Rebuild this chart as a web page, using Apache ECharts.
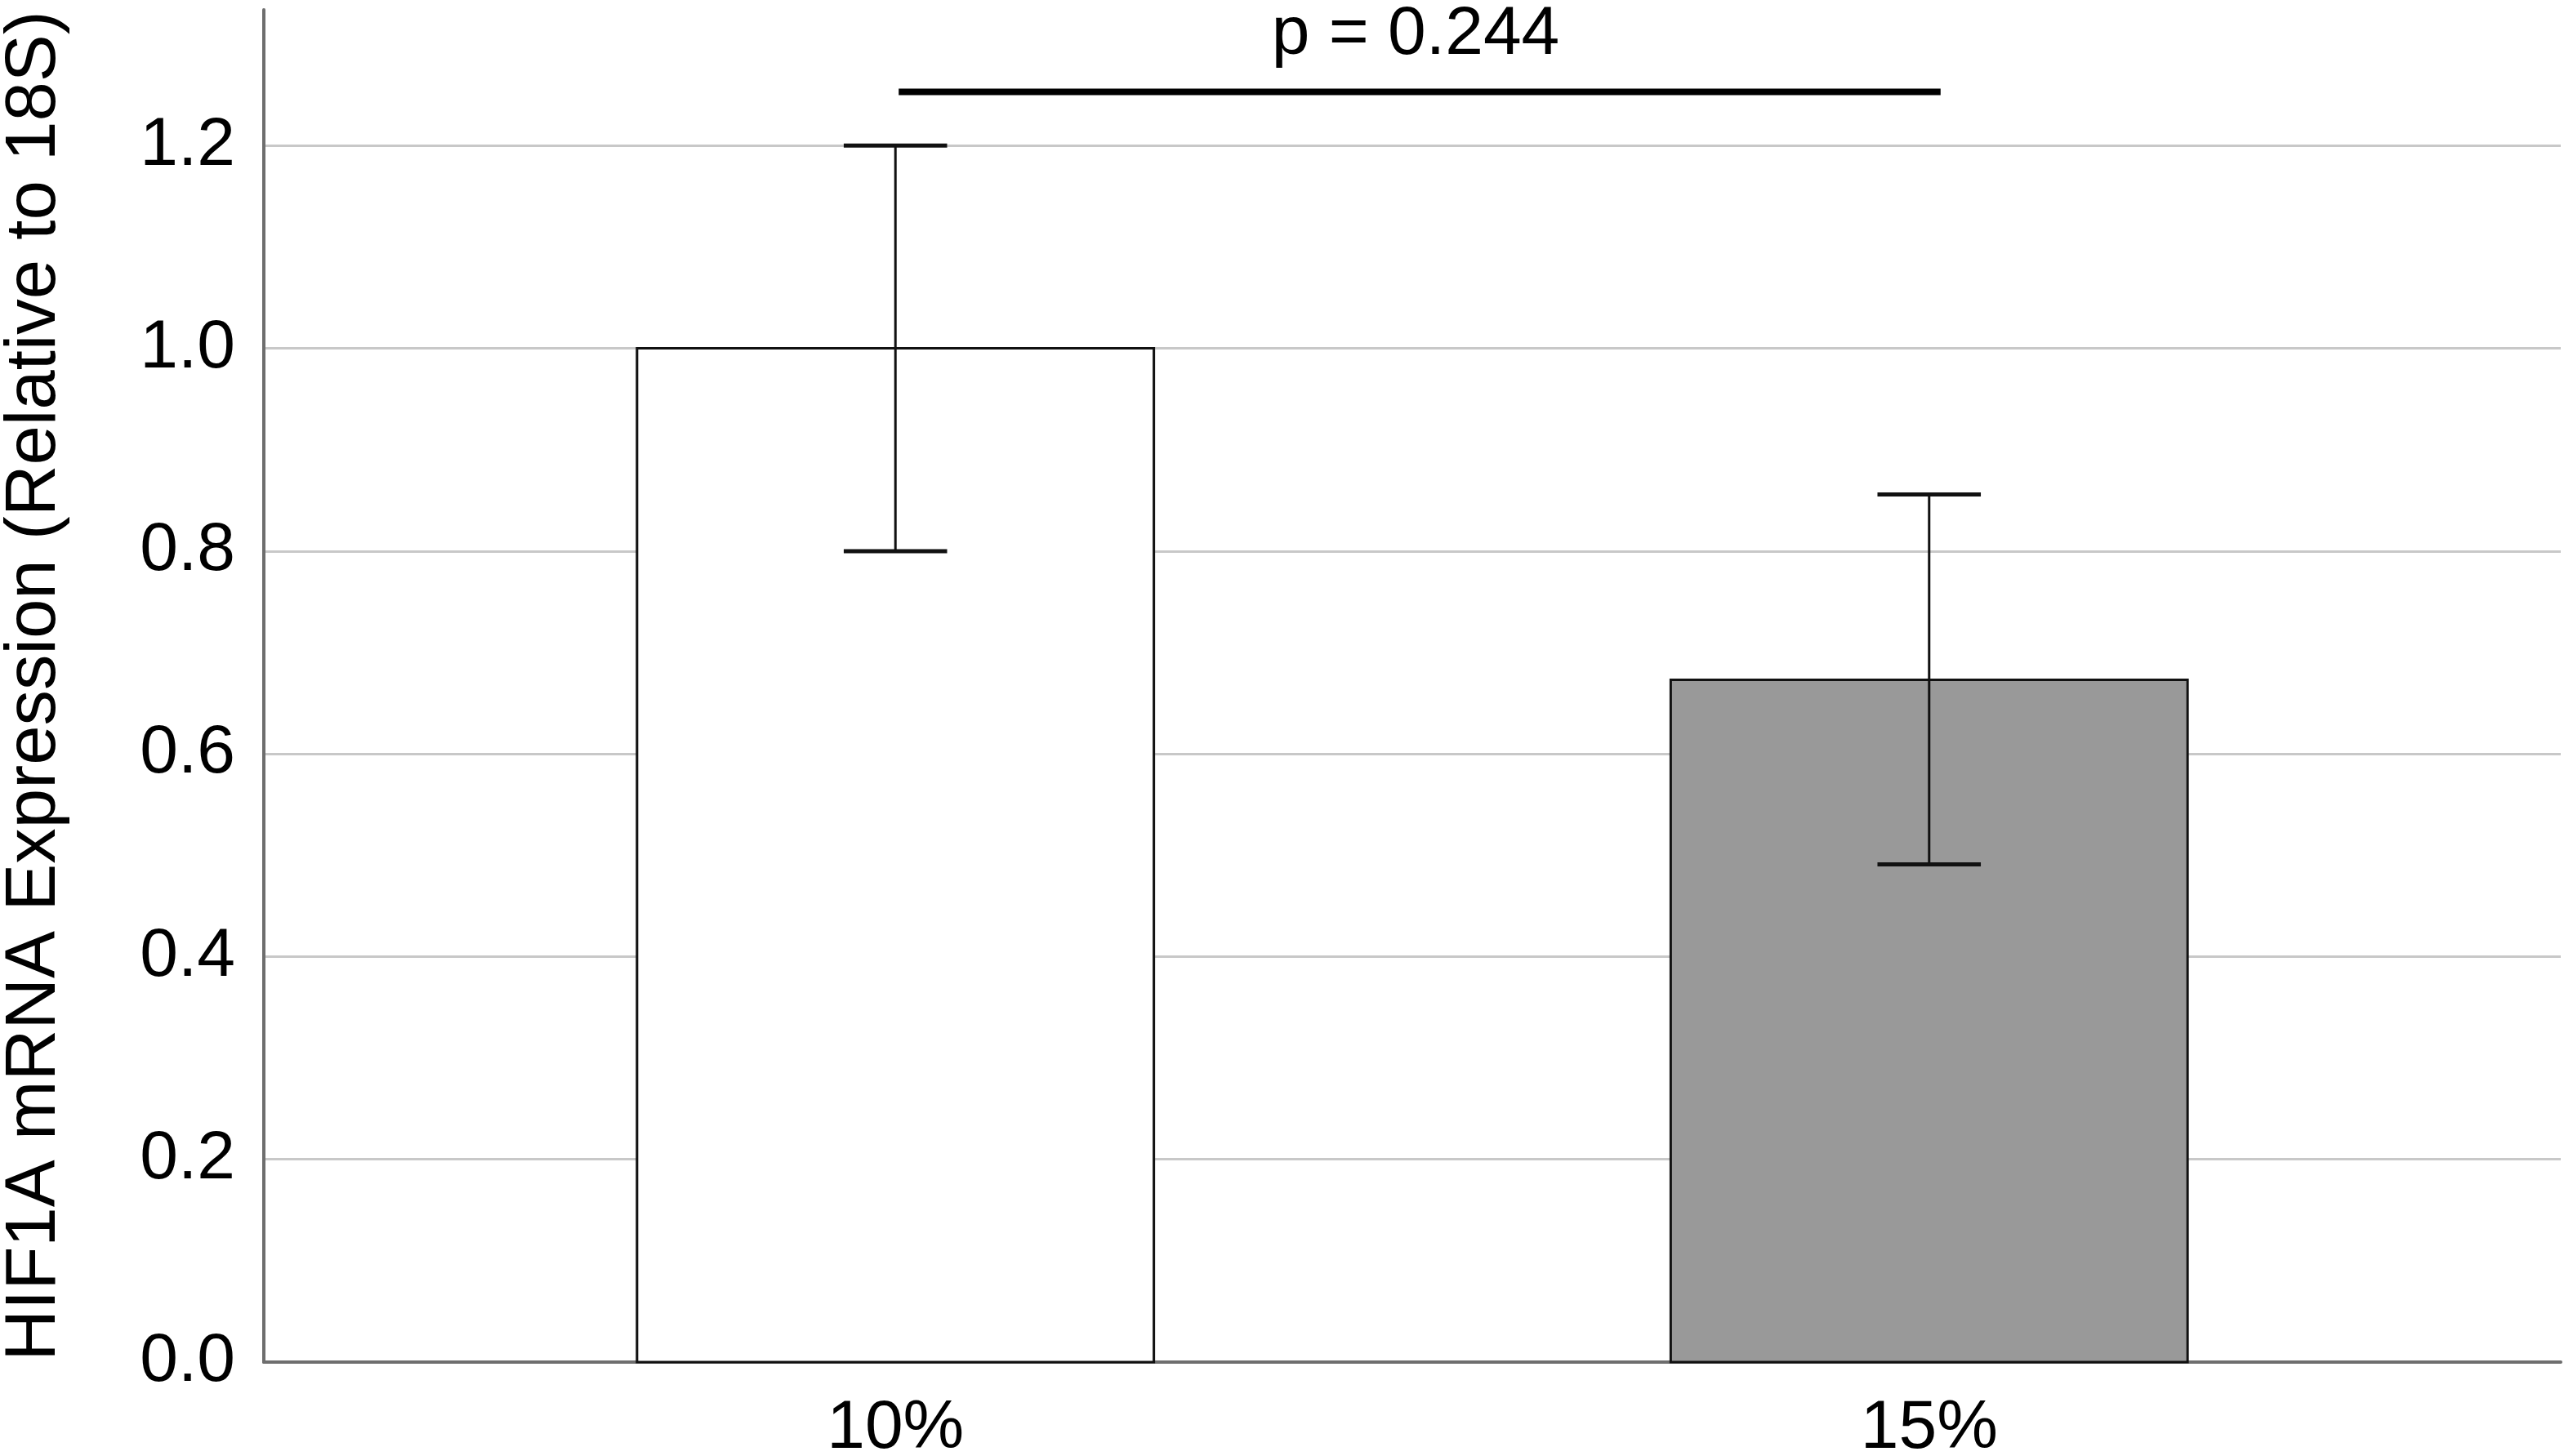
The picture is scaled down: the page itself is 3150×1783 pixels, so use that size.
<!DOCTYPE html>
<html>
<head>
<meta charset="utf-8">
<script src="https://cdn.jsdelivr.net/npm/echarts@6/dist/echarts.min.js"></script>
<style>
  html, body { margin: 0; padding: 0; background: #fff; }
</style>
</head>
<body>
<div id="main" style="width: 3150px;height:1783px;"></div>
<script type="text/javascript">
  // data
  var categories = ['10%', '15%'];
  var positions = [1, 2];
  var means = [1.0, 0.673];
  var errLow = [0.8, 0.491];
  var errHigh = [1.2, 0.856];
  var barColors = ['#ffffff', '#999999'];
  var yTicks = [0, 0.2, 0.4, 0.6, 0.8, 1.0, 1.2];
  var pText = 'p = 0.244';
  var pLevel = 1.253;

  var barHalf = 0.25;   // half bar width in x units
  var capHalf = 0.05;   // half error cap width in x units
  var font = 'Liberation Sans, Arial, sans-serif';

  var myChart = echarts.init(document.getElementById('main'));

  var barData = positions.map(function (p, i) { return [p, means[i], i]; });
  var errData = positions.map(function (p, i) { return [p, errLow[i], errHigh[i]]; });

  var option = {
    animation: false,
    backgroundColor: '#ffffff',
    grid: { left: 323, right: 15, top: 12, bottom: 115, containLabel: false, outerBoundsMode: 'none' },
    xAxis: {
      type: 'value',
      min: 0.389,
      max: 2.611,
      axisLine: { show: true, onZero: true, lineStyle: { color: '#6e6e6e', width: 4 } },
      axisTick: { show: false },
      splitLine: { show: false },
      axisLabel: {
        customValues: positions,
        margin: 40,
        fontSize: 84,
        fontFamily: font,
        color: '#000',
        formatter: function (v) { return categories[Math.round(v) - 1]; }
      }
    },
    yAxis: {
      type: 'value',
      min: 0,
      max: 1.334,
      interval: 0.2,
      name: 'HIF1A mRNA Expression (Relative to 18S)',
      nameLocation: 'middle',
      nameGap: 236,
      nameTextStyle: { fontSize: 87, fontFamily: font, color: '#000' },
      axisLine: { show: true, lineStyle: { color: '#6e6e6e', width: 4 } },
      axisTick: { show: false },
      splitLine: { show: true, showMinLine: false, showMaxLine: false, lineStyle: { color: '#c8c8c8', width: 3 } },
      axisLabel: {
        customValues: yTicks,
        margin: 35,
        fontSize: 84,
        fontFamily: font,
        color: '#000',
        formatter: function (v) { return v.toFixed(1); }
      }
    },
    series: [
      {
        type: 'custom',
        name: 'bars',
        z: 2,
        data: barData,
        renderItem: function (params, api) {
          var x = api.value(0), y = api.value(1), i = api.value(2);
          var tl = api.coord([x - barHalf, y]);
          var br = api.coord([x + barHalf, 0]);
          return {
            type: 'rect',
            shape: { x: tl[0], y: tl[1], width: br[0] - tl[0], height: br[1] - tl[1] },
            style: { fill: barColors[i], stroke: '#111', lineWidth: 3 }
          };
        }
      },
      {
        type: 'custom',
        name: 'error',
        z: 3,
        data: errData,
        renderItem: function (params, api) {
          var x = api.value(0);
          var lo = api.coord([x, api.value(1)]);
          var hi = api.coord([x, api.value(2)]);
          var capL = api.coord([x - capHalf, 0])[0];
          var capR = api.coord([x + capHalf, 0])[0];
          return {
            type: 'group',
            children: [
              { type: 'line', shape: { x1: lo[0], y1: lo[1], x2: hi[0], y2: hi[1] }, style: { stroke: '#111', lineWidth: 3 } },
              { type: 'line', shape: { x1: capL, y1: hi[1], x2: capR, y2: hi[1] }, style: { stroke: '#111', lineWidth: 5 } },
              { type: 'line', shape: { x1: capL, y1: lo[1], x2: capR, y2: lo[1] }, style: { stroke: '#111', lineWidth: 5 } }
            ]
          };
        }
      },
      {
        type: 'custom',
        name: 'pvalue',
        z: 4,
        data: [[positions[0], positions[1], pLevel]],
        renderItem: function (params, api) {
          var a = api.coord([api.value(0), api.value(2)]);
          var b = api.coord([api.value(1), api.value(2)]);
          return {
            type: 'group',
            children: [
              { type: 'line', shape: { x1: a[0] + 4, y1: a[1], x2: b[0] + 14, y2: b[1] }, style: { stroke: '#000', lineWidth: 8 } },
              {
                type: 'text',
                x: (a[0] + b[0]) / 2 + 4,
                y: a[1] - 70,
                style: {
                  text: pText, fill: '#000', fontSize: 84, fontFamily: font,
                  align: 'center', verticalAlign: 'middle'
                }
              }
            ]
          };
        }
      }
    ]
  };

  myChart.setOption(option);
</script>
</body>
</html>
